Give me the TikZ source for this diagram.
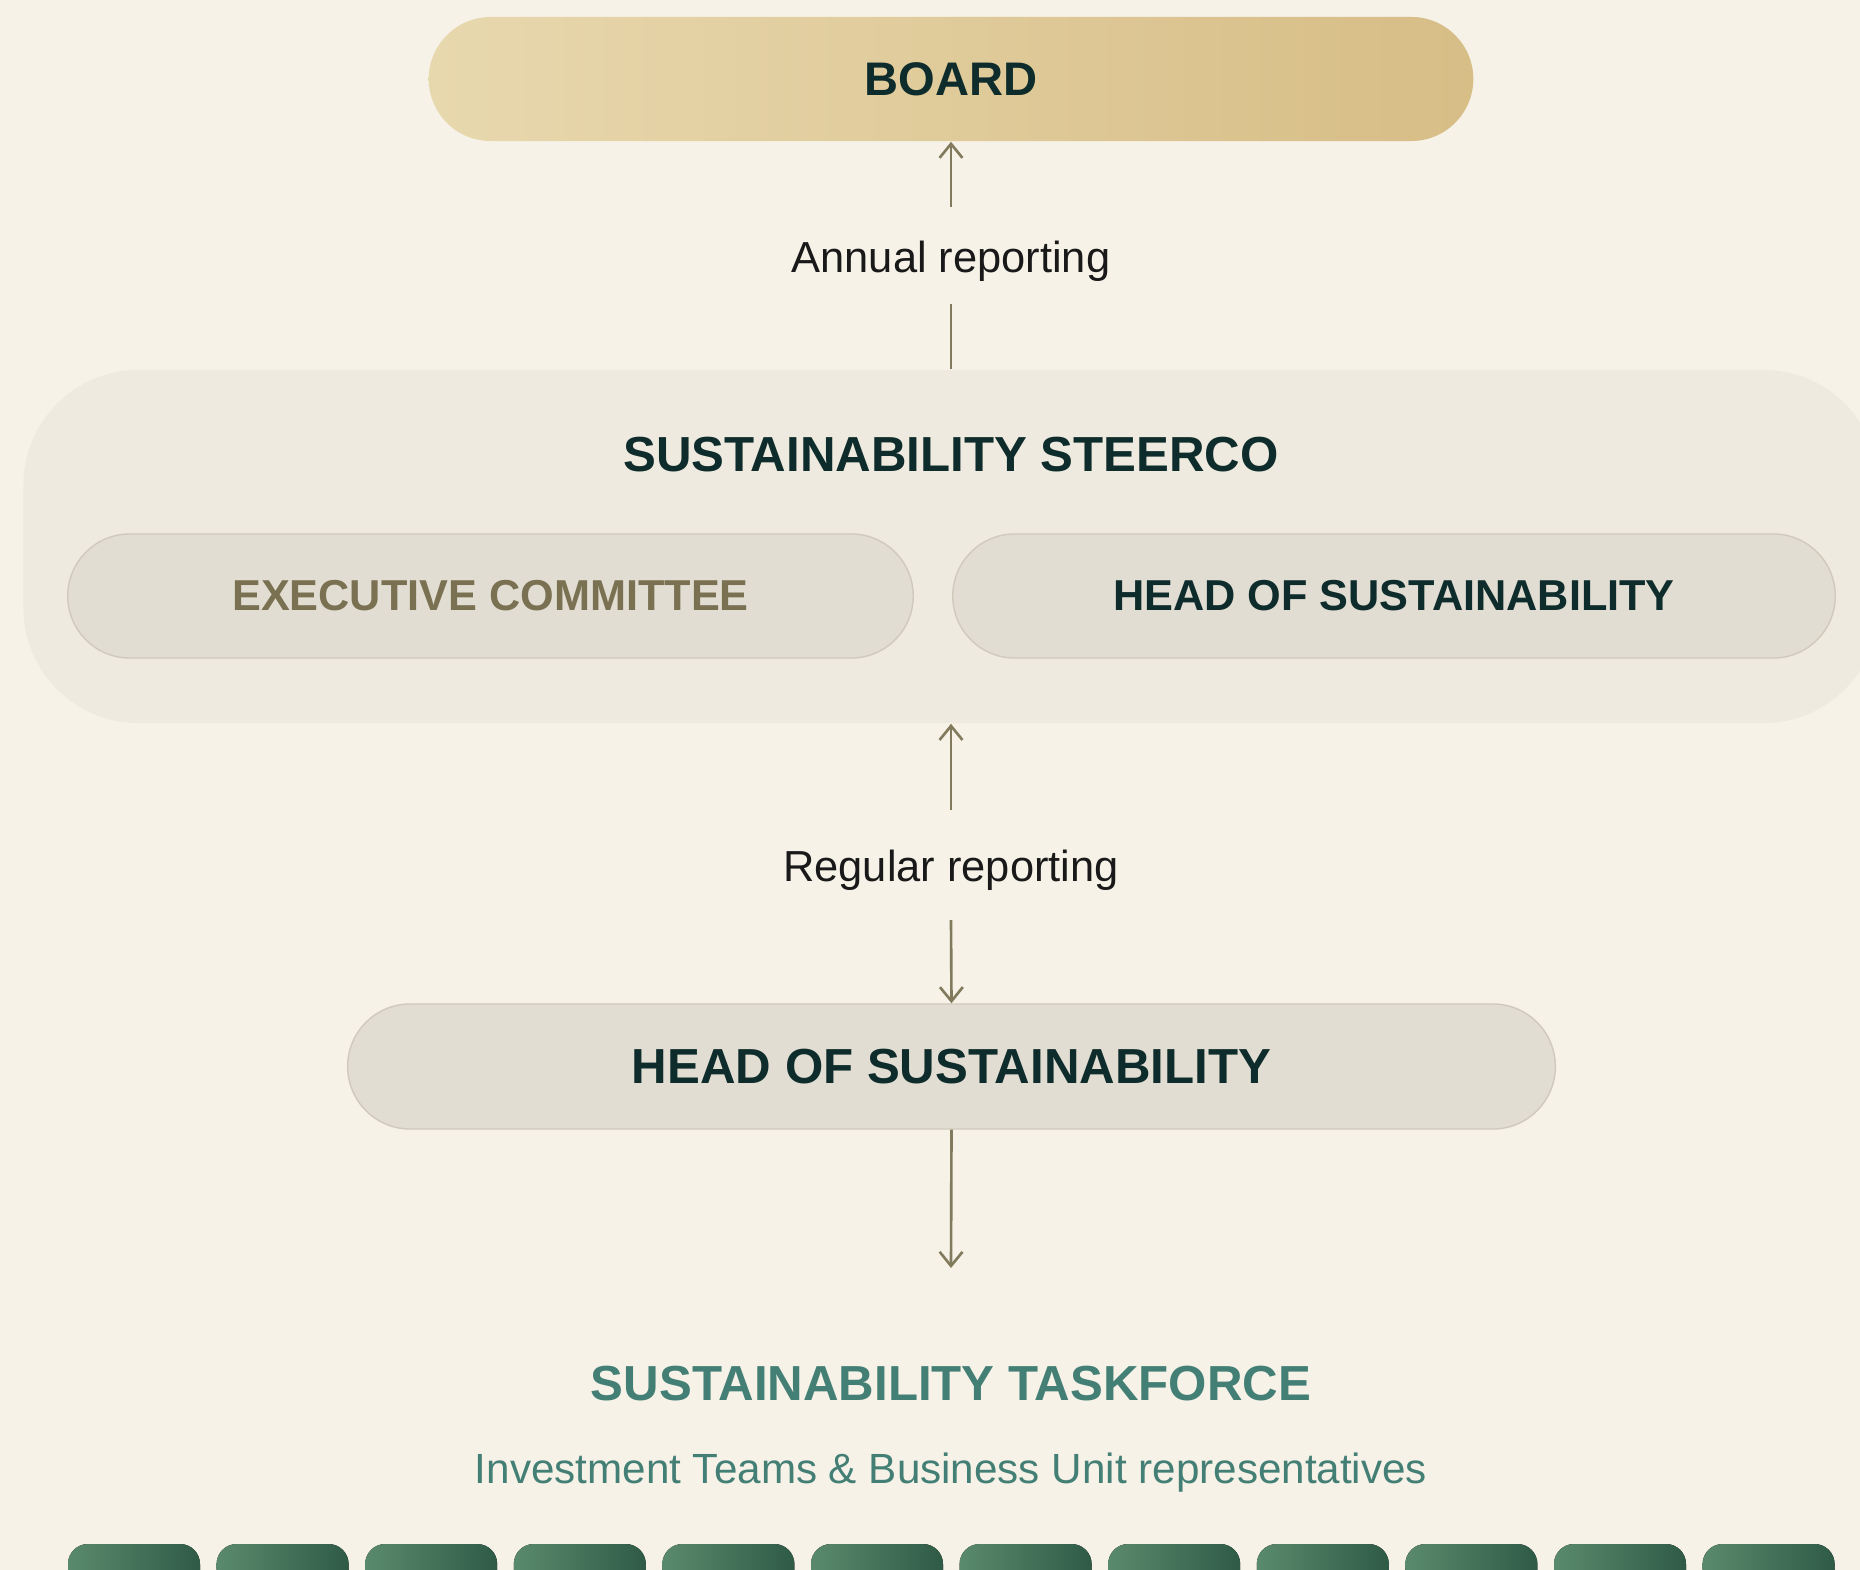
\documentclass[tikz,border=0pt]{standalone}
\usepackage{fontspec}
\setmainfont{Liberation Sans}
\usetikzlibrary{arrows.meta}

\definecolor{paper}{HTML}{F6F2E7}
\definecolor{goldL}{HTML}{E8D8AE}
\definecolor{goldR}{HTML}{D7BD86}
\definecolor{panel}{HTML}{EEEADF}
\definecolor{chipface}{HTML}{E1DDD2}
\definecolor{chipline}{HTML}{D0CABC}
\definecolor{ink}{HTML}{0E2C2B}
\definecolor{olive}{HTML}{7A7152}
\definecolor{arrowc}{HTML}{827A5C}
\definecolor{tealtext}{HTML}{447F76}
\definecolor{leafL}{HTML}{5A8A6D}
\definecolor{leafR}{HTML}{2F5B46}

\tikzset{
  pill/.style={rectangle,inner sep=0pt,minimum height=1.24cm,rounded corners=0.62cm},
  chip/.style={fill=chipface,draw=chipline,line width=0.4pt},
  boxtitle/.style={font=\bfseries\fontsize{14}{16}\selectfont,text=ink},
  chiptext/.style={font=\bfseries\fontsize{12.3}{14}\selectfont},
  reportlabel/.style={font=\fontsize{12.35}{14}\selectfont,text=black!90,anchor=base},
  flowline/.style={draw=arrowc,line width=0.75pt},
  flowarrow/.style={flowline,-{Straight Barb[length=4pt,width=6.5pt]}}
}

\begin{document}
\begin{tikzpicture}[x=0.01cm,y=-0.01cm]

\useasboundingbox (0,0) rectangle (1860,1570);
\clip (0,0) rectangle (1860,1570);

% paper
\fill[paper] (0,0) rectangle (1860,1570);

% board
\node[pill,minimum width=10.44cm,left color=goldL,right color=goldR,
  font=\bfseries\fontsize{13.4}{16}\selectfont,text=ink] (board) at (951,79) {BOARD};

% steerco panel
\node[rectangle,inner sep=0pt,minimum width=18.54cm,minimum height=3.53cm,
  rounded corners=1.15cm,fill=panel] (steerco) at (951,546.5) {};
\node[boxtitle,anchor=base] (steertitle) at (951,472) {SUSTAINABILITY STEERCO};

% members of the steerco
\node[pill,chip,chiptext,minimum width=8.45cm,text=olive] (exco) at (490.5,596) {EXECUTIVE COMMITTEE};
\node[pill,chip,chiptext,minimum width=8.82cm,text=ink] (hos) at (1394,596) {HEAD OF SUSTAINABILITY};

% lower head of sustainability
\node[pill,chip,boxtitle,minimum width=12.07cm,minimum height=1.25cm,
  rounded corners=0.625cm] (hoslow) at (951.5,1066.5) {HEAD OF SUSTAINABILITY};

% annual reporting
\coordinate (a1) at (951,207);
\coordinate (a2) at (951,304);
\node[reportlabel] (annual) at (951,273) {Annual reporting};
\draw[flowarrow] (a1) -- (board.south);
\draw[flowline] (a2) -- (steerco.north);

% regular reporting
\coordinate (r1) at (951,810);
\coordinate (r2) at (951,920);
\node[reportlabel] (regular) at (951,881) {Regular reporting};
\draw[flowarrow] (r1) -- (steerco.south);
\draw[flowarrow] (r2) -- (hoslow.north);

% down to the taskforce
\coordinate (t1) at (951,1268);
\draw[flowarrow] (hoslow.south) -- (t1);

% taskforce
\node[boxtitle,anchor=base,text=tealtext] (taskforce) at (951,1400) {SUSTAINABILITY TASKFORCE};
\node[reportlabel,font=\fontsize{12}{14}\selectfont,text=tealtext] (members) at (951,1483)
  {Investment Teams \& Business Unit representatives};

% representatives
\foreach \i in {0,...,11}
  \fill[left color=leafL,right color=leafR,rounded corners=0.2cm]
    (68+\i*148.6,1544) rectangle ++(132,130);

\end{tikzpicture}
\end{document}
